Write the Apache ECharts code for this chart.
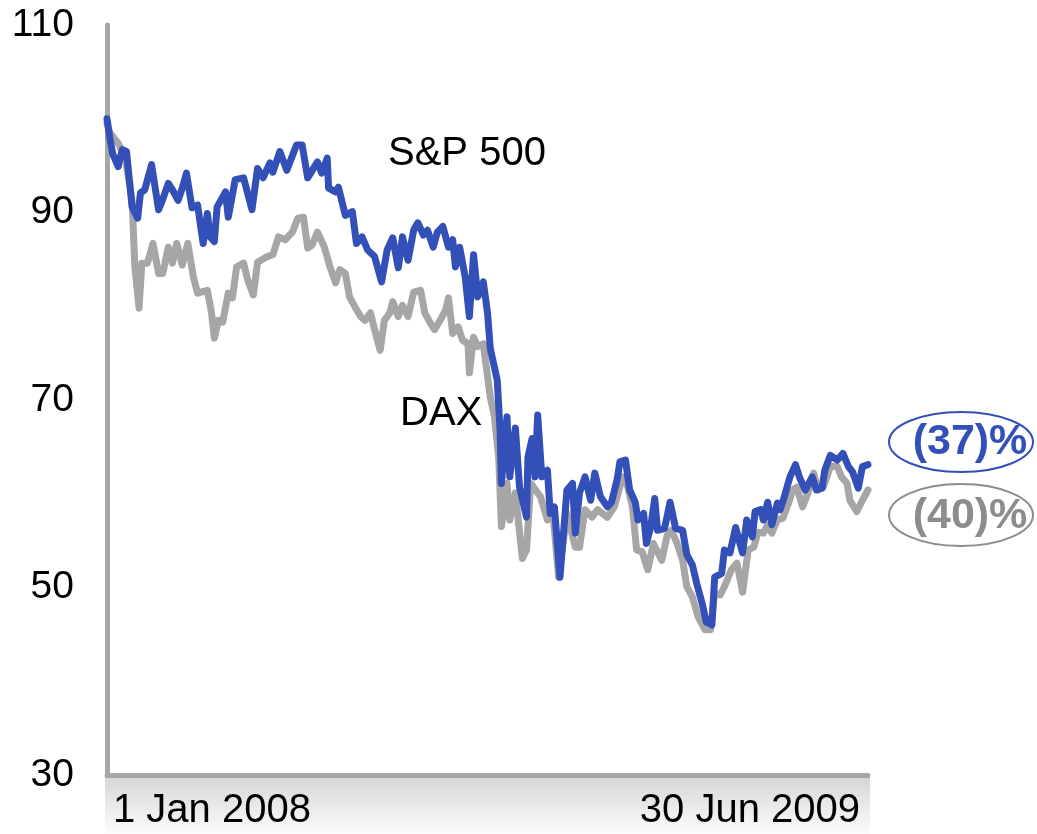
<!DOCTYPE html>
<html>
<head>
<meta charset="utf-8">
<script src="https://cdn.jsdelivr.net/npm/echarts@6/dist/echarts.min.js"></script>
<style>
html,body{margin:0;padding:0;background:#fff;}
#chart{width:1037px;height:834px;}
</style>
</head>
<body>
<div id="chart"></div>
<script>
// ---- Data (indexed to 100 on 1 Jan 2008) ----
const spDates = ['2008-01-01','2008-01-03','2008-01-05','2008-01-09','2008-01-12','2008-01-15','2008-01-19','2008-01-23','2008-01-25','2008-01-28',
'2008-02-02','2008-02-07','2008-02-09','2008-02-14','2008-02-17','2008-02-21','2008-02-24','2008-02-27','2008-03-02','2008-03-06',
'2008-03-10','2008-03-13','2008-03-15','2008-03-18','2008-03-20','2008-03-26','2008-03-28','2008-04-02','2008-04-08','2008-04-14',
'2008-04-18','2008-04-22','2008-04-27','2008-04-29','2008-05-04','2008-05-09','2008-05-16','2008-05-20','2008-05-24','2008-05-31',
'2008-06-03','2008-06-07','2008-06-08','2008-06-13','2008-06-15','2008-06-20','2008-06-25','2008-06-28','2008-07-02','2008-07-06',
'2008-07-11','2008-07-16','2008-07-20','2008-07-24','2008-07-28','2008-07-31','2008-08-04','2008-08-08','2008-08-11','2008-08-15',
'2008-08-18','2008-08-22','2008-08-25','2008-08-29','2008-09-02','2008-09-05','2008-09-07','2008-09-10','2008-09-14','2008-09-17',
'2008-09-20','2008-09-23','2008-09-27','2008-09-30','2008-10-02','2008-10-07','2008-10-09','2008-10-10','2008-10-14','2008-10-16',
'2008-10-20','2008-10-23','2008-10-28','2008-10-29','2008-11-01','2008-11-03','2008-11-05','2008-11-08','2008-11-12','2008-11-14',
'2008-11-17','2008-11-21','2008-11-26','2008-11-30','2008-12-02','2008-12-05','2008-12-09','2008-12-13','2008-12-16','2008-12-20',
'2008-12-25','2008-12-28','2009-01-01','2009-01-03','2009-01-07','2009-01-10','2009-01-14','2009-01-16','2009-01-20','2009-01-22',
'2009-01-25','2009-01-28','2009-01-30','2009-02-04','2009-02-08','2009-02-12','2009-02-17','2009-02-20','2009-02-24','2009-02-27',
'2009-03-03','2009-03-06','2009-03-10','2009-03-12','2009-03-17','2009-03-19','2009-03-23','2009-03-27','2009-04-01','2009-04-04',
'2009-04-08','2009-04-10','2009-04-14','2009-04-16','2009-04-19','2009-04-22','2009-04-26','2009-04-28','2009-05-01','2009-05-05',
'2009-05-09','2009-05-12','2009-05-16','2009-05-21','2009-05-24','2009-05-28','2009-05-30','2009-06-03','2009-06-08','2009-06-12',
'2009-06-16','2009-06-19','2009-06-23','2009-06-26','2009-06-30'];
const spValues = [100.0,98.0,96.3,94.9,96.7,96.5,90.6,89.4,92.1,92.4,
95.1,90.3,91.0,93.1,92.4,91.3,92.6,94.2,90.5,90.8,
86.7,89.9,87.4,86.9,90.6,92.2,89.5,93.5,93.7,90.3,
94.7,93.7,95.3,94.3,96.5,94.5,97.2,97.2,93.7,95.4,
94.2,95.8,92.6,92.2,92.7,89.7,90.1,86.7,87.4,86.0,
85.3,82.6,86.0,87.3,84.1,87.4,84.9,88.1,88.9,87.6,
88.1,86.3,87.9,88.5,86.3,87.1,84.2,86.3,83.1,78.9,
85.5,81.0,82.6,79.3,75.5,72.1,66.8,61.1,68.2,61.8,
67.0,60.7,57.5,63.9,65.9,61.8,68.4,61.8,62.5,57.9,
58.6,51.1,60.4,61.1,55.8,60.1,61.8,59.3,62.2,59.7,
58.6,59.1,61.5,63.4,63.6,60.4,59.1,57.2,57.9,54.7,
56.4,59.5,56.1,56.3,59.1,56.3,56.1,53.5,52.4,50.5,
48.3,46.3,46.0,51.1,51.5,54.0,53.7,56.4,53.7,57.2,
55.4,58.1,58.3,57.2,59.1,56.7,59.0,58.3,59.7,61.8,
63.1,61.7,60.4,61.8,60.4,60.6,62.5,64.1,63.6,64.3,
62.9,62.3,60.6,62.9,63.1];

const daxDates = ['2008-01-01','2008-01-03','2008-01-09','2008-01-14','2008-01-19','2008-01-21','2008-01-24','2008-01-26','2008-01-30','2008-02-03',
'2008-02-07','2008-02-10','2008-02-14','2008-02-17','2008-02-20','2008-02-24','2008-02-28','2008-03-03','2008-03-06','2008-03-13',
'2008-03-16','2008-03-18','2008-03-21','2008-03-24','2008-03-28','2008-03-31','2008-04-03','2008-04-08','2008-04-11','2008-04-15',
'2008-04-18','2008-04-25','2008-04-29','2008-05-03','2008-05-08','2008-05-13','2008-05-17','2008-05-21','2008-05-24','2008-05-27',
'2008-05-31','2008-06-05','2008-06-09','2008-06-13','2008-06-16','2008-06-20','2008-06-23','2008-06-27','2008-07-01','2008-07-04',
'2008-07-08','2008-07-11','2008-07-15','2008-07-18','2008-07-22','2008-07-24','2008-07-28','2008-07-31','2008-08-04','2008-08-08',
'2008-08-13','2008-08-16','2008-08-20','2008-08-23','2008-08-27','2008-08-31','2008-09-02','2008-09-05','2008-09-09','2008-09-12',
'2008-09-16','2008-09-17','2008-09-20','2008-09-23','2008-09-27','2008-10-02','2008-10-05','2008-10-08','2008-10-10','2008-10-14',
'2008-10-16','2008-10-20','2008-10-25','2008-10-28','2008-10-31','2008-11-07','2008-11-12','2008-11-16','2008-11-20','2008-11-26',
'2008-12-02','2008-12-05','2008-12-09','2008-12-14','2008-12-18','2008-12-25','2008-12-30','2009-01-05','2009-01-08','2009-01-12',
'2009-01-15','2009-01-19','2009-01-23','2009-01-27','2009-01-30','2009-02-02','2009-02-06','2009-02-09','2009-02-13','2009-02-17',
'2009-02-20','2009-02-24','2009-02-28','2009-03-05','2009-03-09','2009-03-12','2009-03-16','2009-03-19','2009-03-24','2009-03-28',
'2009-04-01','2009-04-05','2009-04-09','2009-04-12','2009-04-16','2009-04-19','2009-04-22','2009-04-26','2009-04-30','2009-05-04',
'2009-05-07','2009-05-10','2009-05-14','2009-05-18','2009-05-22','2009-05-25','2009-05-29','2009-06-03','2009-06-08','2009-06-11',
'2009-06-15','2009-06-17','2009-06-22','2009-06-26','2009-06-30'];
const daxValues = [99.5,98.5,97.4,95.9,91.3,84.2,79.8,84.6,84.6,86.7,
83.5,83.5,86.3,84.6,86.7,84.4,86.7,83.1,81.4,81.7,
79.3,76.6,78.5,78.3,81.4,80.9,84.2,84.6,82.8,81.2,
84.7,85.3,85.5,87.4,87.1,87.9,89.4,89.5,86.2,86.5,
87.9,86.3,84.2,82.5,83.9,83.5,81.0,79.9,78.9,78.5,
79.3,77.5,75.3,78.5,79.3,80.5,78.9,80.1,78.9,81.5,
81.7,79.3,78.2,77.5,78.5,79.6,80.9,77.1,77.8,76.4,
76.0,72.9,76.7,75.7,76.0,70.3,68.2,63.9,56.5,61.1,
57.2,60.1,53.1,54.0,61.1,59.7,57.2,57.9,51.1,57.9,
54.3,54.3,58.3,57.5,58.3,57.5,58.6,61.8,61.1,58.6,
54.0,53.8,51.9,54.7,53.8,52.9,55.6,56.1,54.7,52.9,
50.1,49.0,46.9,45.5,45.5,49.4,49.2,50.1,51.9,52.6,
49.5,54.0,54.3,55.9,55.8,56.7,55.8,57.2,57.4,59.0,
60.4,60.7,58.6,60.1,62.2,60.4,60.7,62.9,62.9,61.8,
61.1,59.3,58.1,59.3,60.4];

const seriesNames = ['S&P 500', 'DAX'];
const changeLabels = ['(37)%', '(40)%'];
const xRange = ['2008-01-01', '2009-06-30'];
const xTickLabels = ['1 Jan 2008', '30 Jun 2009'];
const yTicks = [30, 50, 70, 90, 110];

// ---- Styles ----
const BLUE = '#3350b9';
const GREY = '#a6a6a6';
const FONT = '"Liberation Sans", Arial, sans-serif';

const chart = echarts.init(document.getElementById('chart'), null, {renderer: 'canvas'});

const toTs = d => Date.UTC(+d.slice(0, 4), +d.slice(5, 7) - 1, +d.slice(8, 10));
const xMin = toTs(xRange[0]);
const xMax = toTs(xRange[1]);

const spData = spDates.map((d, i) => [toTs(d), spValues[i]]);
const daxData = daxDates.map((d, i) => [toTs(d), daxValues[i]]);

chart.setOption({
  animation: false,
  backgroundColor: '#ffffff',
  grid: {left: 107, right: 169, top: 25, bottom: 59},
  xAxis: {
    type: 'value',
    min: xMin,
    max: xMax,
    axisLine: {show: true, lineStyle: {color: GREY, width: 5}},
    axisTick: {show: false},
    splitLine: {show: false},
    axisLabel: {
      customValues: [xMin, xMax],
      formatter: function (v) { return v <= xMin ? xTickLabels[0] : xTickLabels[1]; },
      alignMinLabel: 'left',
      alignMaxLabel: 'right',
      showMinLabel: true,
      showMaxLabel: true,
      color: '#000',
      fontFamily: FONT,
      fontSize: 40,
      margin: 16,
      padding: [0, 8, 0, 6]
    }
  },
  yAxis: {
    type: 'value',
    min: yTicks[0],
    max: yTicks[yTicks.length - 1],
    interval: yTicks[1] - yTicks[0],
    axisLine: {show: true, lineStyle: {color: GREY, width: 5}},
    axisTick: {show: false},
    splitLine: {show: false},
    axisLabel: {
      color: '#000',
      fontFamily: FONT,
      fontSize: 39,
      margin: 33
    }
  },
  graphic: [
    {
      type: 'rect', z: -1, silent: true,
      shape: {x: 105, y: 777, width: 765, height: 57},
      style: {
        fill: new echarts.graphic.LinearGradient(0, 0, 0, 1, [
          {offset: 0, color: '#d6d6d6'},
          {offset: 1, color: '#fcfcfc'}
        ])
      }
    },
    {
      type: 'text', left: 388, top: 134, silent: true,
      style: {text: seriesNames[0], fill: '#000', font: '40px ' + FONT}
    },
    {
      type: 'text', left: 400, top: 394, silent: true,
      style: {text: seriesNames[1], fill: '#000', font: '40px ' + FONT}
    },
    {
      type: 'ellipse', silent: true,
      shape: {cx: 961, cy: 442, rx: 72, ry: 30},
      style: {fill: 'none', stroke: BLUE, lineWidth: 2}
    },
    {
      type: 'ellipse', silent: true,
      shape: {cx: 961, cy: 515, rx: 72, ry: 31},
      style: {fill: 'none', stroke: '#8c8c8c', lineWidth: 2}
    },
    {
      type: 'text', silent: true, x: 970, y: 442,
      style: {text: changeLabels[0], fill: BLUE, font: 'bold 43px ' + FONT, align: 'center', verticalAlign: 'middle'}
    },
    {
      type: 'text', silent: true, x: 970, y: 516,
      style: {text: changeLabels[1], fill: '#8c8c8c', font: 'bold 43px ' + FONT, align: 'center', verticalAlign: 'middle'}
    }
  ],
  series: [
    {
      name: seriesNames[1],
      type: 'line',
      data: daxData,
      showSymbol: false,
      smooth: false,
      lineStyle: {color: GREY, width: 7, cap: 'round', join: 'round'},
      z: 2
    },
    {
      name: seriesNames[0],
      type: 'line',
      data: spData,
      showSymbol: false,
      smooth: false,
      lineStyle: {color: BLUE, width: 7, cap: 'round', join: 'round'},
      z: 3
    }
  ]
});
</script>
</body>
</html>
